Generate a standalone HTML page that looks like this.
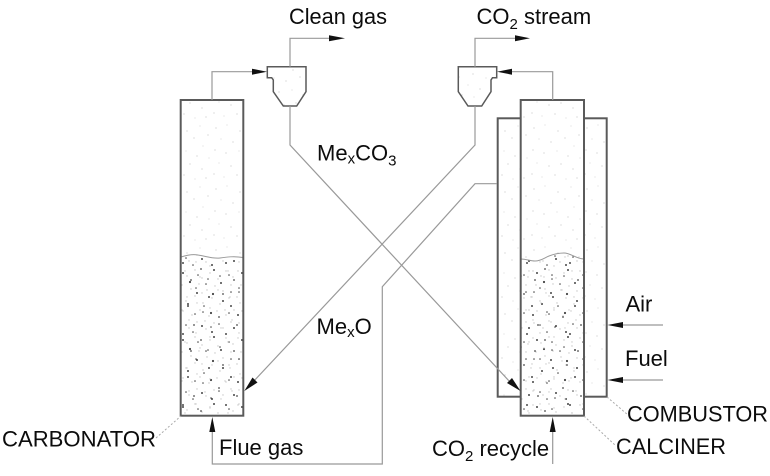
<!DOCTYPE html>
<html>
<head>
<meta charset="utf-8">
<style>
html,body{margin:0;padding:0;background:#fff;width:770px;height:476px;overflow:hidden}
svg{display:block;filter:blur(.3px)}
text{font-family:"Liberation Sans",sans-serif;font-size:22px;fill:#0c0c0c}
.sub{font-size:15px}
.t{fill:none;stroke:#999;stroke-width:1.2}
.v{stroke:#5a5a5a;stroke-width:2;fill:none}
.d{fill:none;stroke:#aaa;stroke-width:1;stroke-dasharray:2 2}
</style>
</head>
<body>
<svg width="770" height="476" viewBox="0 0 770 476" xmlns="http://www.w3.org/2000/svg">
<defs>
<pattern id="fine" width="53" height="61" patternUnits="userSpaceOnUse">
<g fill="#c8c8c8">
<circle cx="4" cy="6" r=".6"/><circle cx="15" cy="3" r=".5"/><circle cx="28" cy="9" r=".6"/><circle cx="41" cy="4" r=".5"/><circle cx="49" cy="13" r=".6"/>
<circle cx="9" cy="17" r=".5"/><circle cx="21" cy="20" r=".6"/><circle cx="35" cy="16" r=".6"/><circle cx="44" cy="24" r=".5"/><circle cx="3" cy="28" r=".6"/>
<circle cx="14" cy="31" r=".6"/><circle cx="27" cy="29" r=".5"/><circle cx="38" cy="34" r=".6"/><circle cx="50" cy="36" r=".5"/><circle cx="7" cy="41" r=".5"/>
<circle cx="19" cy="44" r=".6"/><circle cx="31" cy="42" r=".6"/><circle cx="43" cy="47" r=".6"/><circle cx="2" cy="52" r=".6"/><circle cx="12" cy="55" r=".5"/>
<circle cx="25" cy="53" r=".6"/><circle cx="36" cy="57" r=".5"/><circle cx="47" cy="56" r=".6"/>
</g>
</pattern>
<pattern id="bed" width="59" height="67" patternUnits="userSpaceOnUse">
<g fill="#c6c6c6">
<circle cx="2" cy="3" r=".7"/><circle cx="10" cy="8" r=".7"/><circle cx="18" cy="2" r=".7"/><circle cx="25" cy="10" r=".7"/><circle cx="33" cy="5" r=".7"/><circle cx="41" cy="11" r=".7"/><circle cx="49" cy="3" r=".7"/><circle cx="56" cy="9" r=".7"/>
<circle cx="5" cy="17" r=".7"/><circle cx="14" cy="21" r=".7"/><circle cx="22" cy="16" r=".7"/><circle cx="30" cy="22" r=".7"/><circle cx="38" cy="18" r=".7"/><circle cx="46" cy="23" r=".7"/><circle cx="54" cy="17" r=".7"/>
<circle cx="1" cy="29" r=".7"/><circle cx="9" cy="33" r=".7"/><circle cx="18" cy="28" r=".7"/><circle cx="26" cy="35" r=".7"/><circle cx="35" cy="30" r=".7"/><circle cx="43" cy="36" r=".7"/><circle cx="52" cy="30" r=".7"/>
<circle cx="6" cy="43" r=".7"/><circle cx="15" cy="47" r=".7"/><circle cx="23" cy="42" r=".7"/><circle cx="32" cy="48" r=".7"/><circle cx="40" cy="43" r=".7"/><circle cx="49" cy="47" r=".7"/><circle cx="57" cy="42" r=".7"/>
<circle cx="3" cy="55" r=".7"/><circle cx="12" cy="60" r=".7"/><circle cx="20" cy="54" r=".7"/><circle cx="29" cy="61" r=".7"/><circle cx="37" cy="55" r=".7"/><circle cx="46" cy="60" r=".7"/><circle cx="54" cy="54" r=".7"/>
</g>
<g fill="#444">
<circle cx="6" cy="5" r="1"/><circle cx="21" cy="7" r=".8"/><circle cx="37" cy="2" r="1"/><circle cx="52" cy="7" r=".8"/>
<circle cx="13" cy="14" r="1.1"/><circle cx="29" cy="16" r=".8"/><circle cx="44" cy="15" r="1"/>
<circle cx="3" cy="24" r=".8"/><circle cx="20" cy="25" r="1"/><circle cx="36" cy="26" r="1.1"/><circle cx="54" cy="24" r=".8"/>
<circle cx="11" cy="36" r="1"/><circle cx="27" cy="38" r=".8"/><circle cx="46" cy="33" r="1"/>
<circle cx="2" cy="47" r="1"/><circle cx="18" cy="46" r=".8"/><circle cx="34" cy="45" r="1.1"/><circle cx="52" cy="45" r=".8"/>
<circle cx="9" cy="57" r=".8"/><circle cx="25" cy="58" r="1"/><circle cx="42" cy="56" r=".8"/><circle cx="57" cy="60" r="1"/>
<circle cx="16" cy="64" r=".8"/><circle cx="35" cy="64" r="1"/>
</g>
</pattern>
<pattern id="bed2" width="43" height="71" patternUnits="userSpaceOnUse">
<g fill="#4a4a4a">
<circle cx="8" cy="10" r=".9"/><circle cx="24" cy="4" r=".8"/><circle cx="37" cy="13" r="1"/>
<circle cx="16" cy="22" r="1"/><circle cx="31" cy="28" r=".8"/><circle cx="4" cy="33" r=".9"/>
<circle cx="22" cy="41" r=".9"/><circle cx="39" cy="43" r=".8"/><circle cx="11" cy="50" r="1"/>
<circle cx="29" cy="56" r=".9"/><circle cx="5" cy="63" r=".8"/><circle cx="19" cy="67" r=".9"/><circle cx="36" cy="66" r=".8"/>
</g>
<g fill="#cacaca">
<circle cx="3" cy="6" r=".7"/><circle cx="15" cy="13" r=".7"/><circle cx="30" cy="9" r=".7"/><circle cx="10" cy="26" r=".7"/><circle cx="25" cy="19" r=".7"/><circle cx="38" cy="24" r=".7"/>
<circle cx="17" cy="36" r=".7"/><circle cx="33" cy="37" r=".7"/><circle cx="6" cy="44" r=".7"/><circle cx="24" cy="49" r=".7"/><circle cx="38" cy="53" r=".7"/><circle cx="13" cy="58" r=".7"/><circle cx="28" cy="64" r=".7"/>
</g>
</pattern>
</defs>

<!-- combustor -->
<rect x="497.7" y="118.3" width="109" height="278.4" fill="url(#fine)"/>
<rect x="497.7" y="118.3" width="109" height="278.4" class="v"/>

<!-- calciner -->
<rect x="520.7" y="100" width="63.3" height="315.7" fill="#fff"/>
<rect x="520.7" y="100" width="63.3" height="315.7" fill="url(#fine)"/>
<path d="M521 259 C526 259 530 261 535 261 C541 261 544 258 549 256 C554 254 559 253 564 253 C571 253 576 259 584 259 L584 415 L521 415 Z" fill="#fff"/>
<path d="M521 259 C526 259 530 261 535 261 C541 261 544 258 549 256 C554 254 559 253 564 253 C571 253 576 259 584 259 L584 415 L521 415 Z" fill="url(#bed)"/>
<path d="M521 259 C526 259 530 261 535 261 C541 261 544 258 549 256 C554 254 559 253 564 253 C571 253 576 259 584 259 L584 415 L521 415 Z" fill="url(#bed2)"/>
<path d="M521 259 C526 259 530 261 535 261 C541 261 544 258 549 256 C554 254 559 253 564 253 C571 253 576 259 584 259" fill="none" stroke="#999" stroke-width="1"/>
<rect x="520.7" y="100" width="63.3" height="315.7" class="v"/>

<!-- carbonator -->
<rect x="180.7" y="100" width="62.6" height="315.7" fill="url(#fine)"/>
<path d="M181 257 C187 255 193 254 198 255 C205 256 213 259 220 258 C227 257 234 256 243 257.5 L243 415 L181 415 Z" fill="#fff"/>
<path d="M181 257 C187 255 193 254 198 255 C205 256 213 259 220 258 C227 257 234 256 243 257.5 L243 415 L181 415 Z" fill="url(#bed)"/>
<path d="M181 257 C187 255 193 254 198 255 C205 256 213 259 220 258 C227 257 234 256 243 257.5 L243 415 L181 415 Z" fill="url(#bed2)"/>
<path d="M181 257 C187 255 193 254 198 255 C205 256 213 259 220 258 C227 257 234 256 243 257.5" fill="none" stroke="#999" stroke-width="1"/>
<rect x="180.7" y="100" width="62.6" height="315.7" class="v"/>

<!-- cyclones -->
<polygon points="267.3,66.7 306,66.7 306,91.7 296.7,106 283.3,106 273.3,91.7 273.3,80 271.7,77.7 267.3,77.7" fill="url(#fine)" stroke="#5a5a5a" stroke-width="1.5"/>
<polygon points="496.7,66.7 458.3,66.7 458.3,91.7 468,106 481.7,106 491,91.7 491,80 492.5,77.7 496.7,77.7" fill="url(#fine)" stroke="#5a5a5a" stroke-width="1.5"/>

<!-- pipes -->
<polyline class="t" points="212,100 212,71.7 255,71.7"/>
<polyline class="t" points="290,66.7 290,38.3 332,38.3"/>
<polyline class="t" points="552.7,100 552.7,71.7 510,71.7"/>
<polyline class="t" points="475,66.7 475,38.3 518,38.3"/>
<polyline class="t" points="290,106 290,145 510,382"/>
<polyline class="t" points="475,106 475,145 253,382"/>
<polyline class="t" points="497,183.7 475,183.7 382.3,286.7 382.3,464 212.3,464 212.3,430"/>
<line class="t" x1="552.7" y1="464" x2="552.7" y2="430"/>
<line class="t" x1="663" y1="325" x2="620" y2="325"/>
<line class="t" x1="663" y1="380" x2="620" y2="380"/>

<!-- arrowheads -->
<g fill="#111">
<polygon points="267,71.7 252,68.7 252,74.7"/>
<polygon points="345,38.3 329,35.3 329,41.3"/>
<polygon points="497,71.7 512,68.7 512,74.7"/>
<polygon points="530,38.3 515,35.3 515,41.3"/>
<polygon points="520.5,391 507,383 512,378"/>
<polygon points="244.3,391 252.5,377.5 257.5,382.5"/>
<polygon points="212.3,417 209.3,432 215.3,432"/>
<polygon points="552.7,417 549.7,432 555.7,432"/>
<polygon points="607.5,325 623,322 623,328"/>
<polygon points="607.5,380 623,377 623,383"/>
</g>

<!-- leaders -->
<line class="d" x1="156" y1="438" x2="181" y2="416"/>
<line class="d" x1="607" y1="397" x2="628" y2="415"/>
<line class="d" x1="584" y1="416" x2="615" y2="445"/>

<!-- labels -->
<text x="289" y="24" textLength="98" lengthAdjust="spacingAndGlyphs">Clean gas</text>
<text x="476.5" y="24">CO<tspan class="sub" dy="5">2</tspan><tspan dy="-5"> stream</tspan></text>
<text x="317" y="160.5">Me<tspan class="sub" dy="3">x</tspan><tspan dy="-3">CO</tspan><tspan class="sub" dy="5">3</tspan></text>
<text x="316.5" y="334">Me<tspan class="sub" dy="3">x</tspan><tspan dy="-3">O</tspan></text>
<text x="625.5" y="311.5">Air</text>
<text x="625" y="366">Fuel</text>
<text x="2" y="446.5" textLength="154" lengthAdjust="spacingAndGlyphs">CARBONATOR</text>
<text x="219" y="455">Flue gas</text>
<text x="432" y="456">CO<tspan class="sub" dy="5">2</tspan><tspan dy="-5"> recycle</tspan></text>
<text x="616" y="454" textLength="110" lengthAdjust="spacingAndGlyphs">CALCINER</text>
<text x="627" y="421.5" textLength="141" lengthAdjust="spacingAndGlyphs">COMBUSTOR</text>
</svg>
</body>
</html>
